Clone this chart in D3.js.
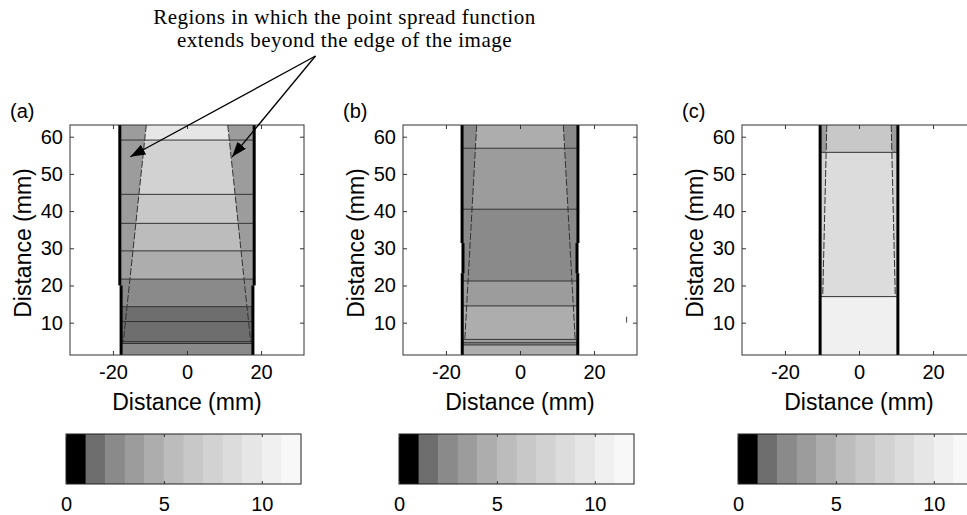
<!DOCTYPE html>
<html>
<head>
<meta charset="utf-8">
<script src="https://cdn.jsdelivr.net/npm/d3@7"></script>
<style>
  body { margin: 0; background: #fff; }
  svg { display: block; }
</style>
</head>
<body>
<svg id="fig" width="967" height="515"></svg>
<script>
// ---- values ----------------------------------------------------------
const xTicks = [-20, 0, 20];
const yTicks = [10, 20, 30, 40, 50, 60];
const colorbarTicks = [0, 5, 10];
const levelCount = 12;
const panelLetters = ["(a)", "(b)", "(c)"];
const annotationLines = [
  "Regions in which the point spread function",
  "extends beyond the edge of the image"
];

// Panel (a): band boundaries in mm (bottom to top), value of each band inside
// the point-spread region and in the two edge regions
const bandEdgesA = [1.3, 4.4, 4.9, 10.3, 14.3, 21.7, 29.3, 36.7, 44.5, 59.1, 63.15];
const centreA    = [2, 1, 1, 1, 2, 4, 5, 6, 7, 9];
const edgeA      = [2, 1, 1, 1, 2, 3, 3, 3, 3, 3];
const halfWidthA = 18.0;
// boundary of the region where the PSF stays inside the image: [x at top, y top, x at bottom, y bottom]
const psfA = [11.0, 63.15, 17.2, 4.9];
// image edge outline: [half-width, y from, y to]
const outlineA = [[18.15, 20, 63.15], [17.8, 1.3, 20]];

// Panel (b)
const bandEdgesB = [1.3, 4.0, 4.6, 5.5, 14.5, 21.2, 40.5, 56.9, 63.15];
const centreB    = [4, 2, 3, 4, 3, 2, 3, 4];
const edgeB      = [4, 2, 3, 4, 3, 2, 2, 2];
const halfWidthB = 15.6;
const psfB = [11.7, 63.15, 14.9, 5.5];
const outlineB = [[15.65, 31.4, 63.15], [15.4, 23.3, 31.4], [15.6, 1.3, 23.3]];
const strayMarkB = [28.8, 10.0, 11.6];

// Panel (c)
const bandEdgesC = [1.3, 17.0, 55.8, 63.15];
const centreC    = [10, 8, 6];
const edgeC      = [10, 7, 3];
const halfWidthC = 10.5;
const psfC = [8.7, 63.15, 9.8, 17.0];
const outlineC = [[10.5, 1.3, 63.15]];

// Annotation anchor and arrow targets, in panel (a) data units (mm)
const annotationApex = [34.7, 81.7];
const annotationTargets = [[-15.3, 54.6], [12.2, 54.6]];

// ---- styles / layout -------------------------------------------------
const grayLevels = ["#000000", "#6e6e6e", "#8a8a8a", "#9c9c9c", "#adadad", "#bcbcbc",
                    "#c8c8c8", "#d2d2d2", "#dcdcdc", "#e6e6e6", "#f0f0f0", "#f8f8f8"];
const sans = "'Liberation Sans', Arial, sans-serif";
const serif = "'Liberation Serif', 'Times New Roman', serif";
const plotLefts = [70, 403, 742];
const plotW = 234, plotTop = 125, plotH = 230;
const cbTop = 434, cbH = 50, cbW = 235;
const plainNumber = d => String(d);

const color = d3.scaleQuantize().domain([0, levelCount]).range(grayLevels);

const panels = [
  { letter: panelLetters[0], edges: bandEdgesA, centre: centreA, edge: edgeA, half: halfWidthA, psf: psfA, outline: outlineA },
  { letter: panelLetters[1], edges: bandEdgesB, centre: centreB, edge: edgeB, half: halfWidthB, psf: psfB, outline: outlineB, stray: strayMarkB },
  { letter: panelLetters[2], edges: bandEdgesC, centre: centreC, edge: edgeC, half: halfWidthC, psf: psfC, outline: outlineC }
];

const svg = d3.select("#fig");
const scales = [];

panels.forEach((p, i) => {
  const left = plotLefts[i];
  const x = d3.scaleLinear().domain([-31.6, 31.6]).range([left, left + plotW]);
  const y = d3.scaleLinear().domain([1.3, 63.15]).range([plotTop + plotH, plotTop]);
  scales.push({ x, y });

  const g = svg.append("g");
  const clipId = "clip" + i;
  svg.append("clipPath").attr("id", clipId)
    .append("rect").attr("x", left).attr("y", plotTop).attr("width", plotW).attr("height", plotH);
  const body = g.append("g").attr("clip-path", `url(#${clipId})`);

  const [xt, yt, xb, yb] = p.psf;
  const psfX = yy => xb + (xt - xb) * (yy - yb) / (yt - yb);
  const bands = p.centre.map((v, k) => ({ y0: p.edges[k], y1: p.edges[k + 1], c: v, e: p.edge[k] }));

  // edge-region fill for every band
  body.selectAll("rect.band").data(bands).join("rect")
    .attr("x", x(-p.half)).attr("width", x(p.half) - x(-p.half))
    .attr("y", d => y(d.y1)).attr("height", d => y(d.y0) - y(d.y1))
    .attr("fill", d => color(d.e));

  // central (PSF inside image) fill; below the end of the PSF boundary it spans the full width
  body.selectAll("path.centre").data(bands).join("path")
    .attr("fill", d => color(d.c))
    .attr("d", d => {
      const w0 = d.y0 >= yb - 1e-9 ? psfX(d.y0) : p.half;
      const w1 = d.y1 > yb + 1e-9 ? psfX(d.y1) : p.half;
      return d3.line()([[x(-w1), y(d.y1)], [x(w1), y(d.y1)], [x(w0), y(d.y0)], [x(-w0), y(d.y0)]]) + "Z";
    });

  // contour lines between bands
  body.selectAll("line.contour").data(p.edges.slice(1, -1)).join("line")
    .attr("x1", x(-p.half)).attr("x2", x(p.half))
    .attr("y1", d => y(d)).attr("y2", d => y(d))
    .attr("stroke", "#333").attr("stroke-width", 1);

  // PSF boundary (dashed)
  [-1, 1].forEach(s => {
    body.append("line")
      .attr("x1", x(s * xt)).attr("y1", y(yt))
      .attr("x2", x(s * xb)).attr("y2", y(yb))
      .attr("stroke", "#333").attr("stroke-width", 1)
      .attr("stroke-dasharray", "7,2");
  });

  // image edge outline
  p.outline.forEach(([h, y0, y1]) => {
    [-1, 1].forEach(s => {
      body.append("line")
        .attr("x1", x(s * h)).attr("x2", x(s * h))
        .attr("y1", y(y0)).attr("y2", y(y1))
        .attr("stroke", "#000").attr("stroke-width", 3);
    });
  });

  if (p.stray) {
    body.append("line")
      .attr("x1", x(p.stray[0])).attr("x2", x(p.stray[0]))
      .attr("y1", y(p.stray[1])).attr("y2", y(p.stray[2]))
      .attr("stroke", "#444").attr("stroke-width", 1);
  }

  // axes box
  g.append("rect").attr("x", left).attr("y", plotTop).attr("width", plotW).attr("height", plotH)
    .attr("fill", "none").attr("stroke", "#333").attr("stroke-width", 1);

  const styleAxis = a => {
    a.select(".domain").remove();
    a.selectAll("line").attr("stroke", "#333");
    a.selectAll("text").attr("font-family", sans).attr("font-size", 20).attr("fill", "#000");
  };
  g.append("g").attr("transform", `translate(0,${plotTop + plotH})`)
    .call(d3.axisBottom(x).tickValues(xTicks).tickFormat(plainNumber)
      .tickSizeInner(-4).tickSizeOuter(0).tickPadding(10))
    .call(styleAxis);
  g.append("g").attr("transform", `translate(0,${plotTop})`)
    .call(d3.axisTop(x).tickValues(xTicks).tickSizeInner(-4).tickSizeOuter(0).tickFormat(""))
    .call(styleAxis);
  g.append("g").attr("transform", `translate(${left},0)`)
    .call(d3.axisLeft(y).tickValues(yTicks).tickFormat(plainNumber)
      .tickSizeInner(-4).tickSizeOuter(0).tickPadding(7))
    .call(styleAxis);
  g.append("g").attr("transform", `translate(${left + plotW},0)`)
    .call(d3.axisRight(y).tickValues(yTicks).tickSizeInner(-4).tickSizeOuter(0).tickFormat(""))
    .call(styleAxis);

  // axis titles
  g.append("text").attr("x", left + plotW / 2).attr("y", 410)
    .attr("text-anchor", "middle").attr("font-family", sans).attr("font-size", 23)
    .text("Distance (mm)");
  g.append("text").attr("transform", `translate(${left - 39},${plotTop + plotH / 2 + 3}) rotate(-90)`)
    .attr("text-anchor", "middle").attr("font-family", sans).attr("font-size", 23)
    .text("Distance (mm)");

  // panel letter
  g.append("text").attr("x", left - 60).attr("y", 118)
    .attr("font-family", sans).attr("font-size", 20).text(p.letter);

  // colorbar
  const cx = d3.scaleLinear().domain([0, levelCount]).range([left - 4, left - 4 + cbW]);
  const cb = svg.append("g");
  cb.selectAll("rect.level").data(d3.range(levelCount)).join("rect")
    .attr("x", d => cx(d)).attr("width", d => cx(d + 1) - cx(d) + 0.5)
    .attr("y", cbTop).attr("height", cbH)
    .attr("fill", d => color(d));
  cb.append("rect").attr("x", cx(0)).attr("y", cbTop).attr("width", cbW).attr("height", cbH)
    .attr("fill", "none").attr("stroke", "#222").attr("stroke-width", 1);
  cb.append("g").attr("transform", `translate(0,${cbTop + cbH})`)
    .call(d3.axisBottom(cx).tickValues(colorbarTicks).tickFormat(plainNumber)
      .tickSizeInner(-3).tickSizeOuter(0).tickPadding(13))
    .call(styleAxis);
  cb.append("g").attr("transform", `translate(0,${cbTop})`)
    .call(d3.axisTop(cx).tickValues(colorbarTicks).tickSizeInner(-3).tickSizeOuter(0).tickFormat(""))
    .call(styleAxis);
});

// ---- annotation with arrows into panel (a) ----------------------------
const defs = svg.append("defs");
defs.append("marker").attr("id", "head")
  .attr("markerUnits", "userSpaceOnUse")
  .attr("markerWidth", 15).attr("markerHeight", 11)
  .attr("refX", 15).attr("refY", 5.5).attr("orient", "auto")
  .append("path").attr("d", "M0,0 L15,5.5 L0,11 Z").attr("fill", "#000");

const { x: ax, y: ay } = scales[0];
annotationTargets.forEach(t => {
  svg.append("line")
    .attr("x1", ax(annotationApex[0])).attr("y1", ay(annotationApex[1]))
    .attr("x2", ax(t[0])).attr("y2", ay(t[1]))
    .attr("stroke", "#000").attr("stroke-width", 1.3)
    .attr("marker-end", "url(#head)");
});

svg.selectAll("text.note").data(annotationLines).join("text")
  .attr("class", "note")
  .attr("x", 344.5).attr("y", (d, i) => 24 + i * 23.4)
  .attr("text-anchor", "middle").attr("font-family", serif).attr("font-size", 21)
  .attr("letter-spacing", 0.5)
  .text(d => d);
</script>
</body>
</html>
